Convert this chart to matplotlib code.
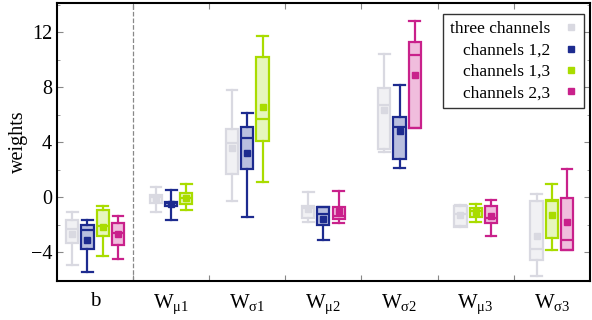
import numpy as np
from matplotlib import pyplot as plt

plt.rcParams['font.family'] = ['Liberation Serif', 'DejaVu Serif']
plt.rcParams['mathtext.default'] = 'regular'

# weight groups along the x axis
groups = ['b', 'W$_{μ1}$', 'W$_{σ1}$', 'W$_{μ2}$', 'W$_{σ2}$', 'W$_{μ3}$', 'W$_{σ3}$']

# box statistics per series, one entry per group (None = weight not present)
# order of each tuple: whisker low, q1, median, q3, whisker high, mean
three_ch = [(-4.95, -3.35, -2.3, -1.7, -1.1, -2.65),
            (-1.1, -0.45, 0.0, 0.15, 0.72, -0.1),
            (-0.3, 1.7, 3.9, 4.95, 7.8, 3.6),
            (-1.8, -1.55, -0.8, -0.63, 0.35, -0.87),
            (3.25, 3.5, 6.7, 7.9, 10.4, 6.35),
            (-2.1, -2.15, -1.2, -0.68, -0.58, -1.3),
            (-5.75, -4.55, -3.8, -0.27, 0.22, -2.8)]
ch_12 = [(-5.45, -3.75, -2.4, -2.0, -1.65, -3.1),
         (-1.65, -0.68, -0.45, -0.36, 0.48, -0.5),
         (-1.45, 2.05, 4.3, 5.1, 6.15, 3.2),
         (-3.15, -2.0, -1.2, -0.75, -0.7, -1.6),
         (2.15, 2.75, 5.1, 5.8, 8.15, 4.8),
         None,
         None]
ch_13 = [(-4.25, -2.85, -2.1, -0.97, -0.68, -2.15),
         (-0.95, -0.5, -0.05, 0.3, 0.92, -0.07),
         (1.1, 4.1, 5.65, 10.2, 11.7, 6.55),
         None,
         None,
         (-1.82, -1.45, -1.0, -0.8, -0.5, -1.07),
         (-3.83, -3.0, -0.3, -0.2, 0.92, -1.3)]
ch_23 = [(-4.5, -3.45, -2.6, -1.92, -1.35, -2.65),
         None,
         None,
         (-1.92, -1.6, -1.35, -0.73, 0.45, -1.0),
         (5.0, 5.02, 10.35, 11.25, 12.8, 8.85),
         (-2.85, -1.9, -1.53, -0.68, -0.2, -1.38),
         (-3.83, -3.83, -3.1, -0.1, 2.05, -1.8)]

series = [('three channels', three_ch, '#d9d9e1', '#f1f1f4'),
          ('channels 1,2', ch_12, '#1d2b8f', '#b9bfdf'),
          ('channels 1,3', ch_13, '#a9dc00', '#e6f6bd'),
          ('channels 2,3', ch_23, '#c9218b', '#f0bddd')]

fig = plt.figure(figsize=(5.92, 3.2), dpi=100)
ax = fig.add_axes([0.0963, 0.122, 0.9, 0.868])

# work out box positions: boxes present in a group are centred on it
step = 0.2
n_present = [sum(s[1][g] is not None for s in series) for g in range(len(groups))]
slot = [0] * len(groups)

handles = []
for name, data, edge, fill in series:
    stats, pos = [], []
    for g, d in enumerate(data):
        if d is None:
            continue
        lo, q1, med, q3, hi, mean = d
        stats.append(dict(whislo=lo, q1=q1, med=med, q3=q3, whishi=hi, mean=mean))
        pos.append(g + 0.5 + (slot[g] - (n_present[g] - 1) / 2) * step)
        slot[g] += 1
    lw = 1.6
    ax.bxp(stats, positions=pos, widths=0.16, patch_artist=True, showmeans=True,
           showfliers=False, manage_ticks=False,
           boxprops=dict(facecolor=fill, edgecolor=edge, linewidth=lw),
           medianprops=dict(color=edge, linewidth=lw),
           whiskerprops=dict(color=edge, linewidth=lw),
           capprops=dict(color=edge, linewidth=lw),
           capwidths=0.14,
           meanprops=dict(marker='s', markerfacecolor=edge, markeredgecolor=edge,
                          markersize=4.5))
    h, = ax.plot([], [], 's', color=edge, markersize=5, label=name)
    handles.append(h)

# dashed separator between bias and weights
ax.axvline(1, color='#888888', linestyle='--', linewidth=0.9)

ax.set_xlim(0, 7)
ax.set_ylim(-6.1, 14.1)

ax.set_xticks(np.arange(1, 7))
ax.set_xticklabels([])
ax.set_xticks(np.arange(7) + 0.5, minor=True)
ax.set_xticklabels(groups, minor=True, fontsize=15)
ax.tick_params(axis='x', which='minor', length=0, pad=8)
ax.tick_params(axis='x', which='major', direction='in', length=4, top=True,
               color='#888888')

ax.set_yticks([-4, 0, 4, 8, 12])
ax.set_yticks(np.arange(-6, 15, 2), minor=True)
ax.tick_params(axis='y', which='both', direction='in', right=True, color='#888888',
               labelsize=14.5)
ax.tick_params(axis='y', which='major', length=4)
ax.tick_params(axis='y', which='minor', length=2)

ax.set_ylabel('weights', fontsize=14.5, labelpad=2)

for sp in ax.spines.values():
    sp.set_linewidth(1.5)

leg = ax.legend(handles=handles, loc='upper right', markerfirst=False, fontsize=12.5,
                frameon=True, fancybox=False, edgecolor='black', handlelength=0.8,
                handletextpad=0.8, borderpad=0.4, labelspacing=0.3,
                borderaxespad=0.0, bbox_to_anchor=(0.99, 0.96))
leg.get_frame().set_linewidth(1.0)

fig.savefig('out.png', dpi=100)
